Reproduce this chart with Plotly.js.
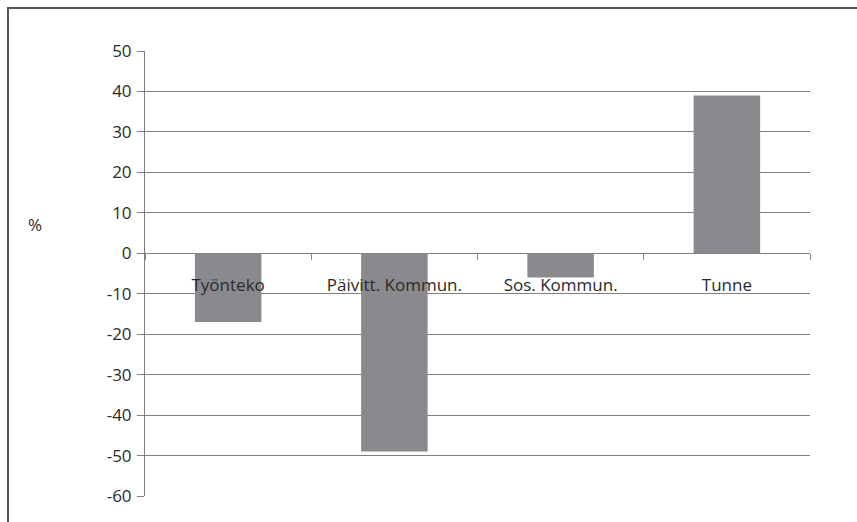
<!DOCTYPE html>
<html><head><meta charset="utf-8">
<script src="https://cdn.plot.ly/plotly-3.0.1.min.js"></script>
<style>
html,body{margin:0;padding:0;background:#fff;}
#wrap{position:relative;width:857px;height:522px;}
#chart{width:857px;height:522px;}
#frame{position:absolute;left:7px;top:7px;width:860px;height:530px;border-left:2px solid #555;border-top:2px solid #555;pointer-events:none;}
</style></head>
<body>
<div id="wrap"><div id="chart"></div><div id="frame"></div></div>
<script>
const categories = ["Työnteko", "Päivitt. Kommun.", "Sos. Kommun.", "Tunne"];
const values = [-17, -49, -6, 39];
const yTicks = [50, 40, 30, 20, 10, 0, -10, -20, -30, -40, -50, -60];
const yTitle = "%";

const font = {family: "Open Sans, sans-serif", size: 17, color: "#2a2a2a"};
const trace = {
  type: "bar", x: categories, y: values,
  marker: {color: "#8a8a8e", line: {width: 0}},
  width: 0.4, hoverinfo: "skip"
};
const layout = {
  width: 857, height: 522,
  margin: {l: 145, r: 47, t: 51, b: 26},
  paper_bgcolor: "#fff", plot_bgcolor: "#fff",
  font: font,
  showlegend: false,
  xaxis: {
    type: "category", anchor: "free", position: 60/110,
    tickson: "boundaries", ticks: "outside", ticklen: 6, tickcolor: "#888", tickwidth: 1,
    showline: false, showgrid: false, zeroline: false,
    tickfont: font, ticklabelstandoff: 20, fixedrange: true
  },
  yaxis: {
    range: [-60, 50], tickvals: yTicks, ticktext: yTicks.map(String),
    showgrid: true, gridcolor: "#7f7f7f", gridwidth: 1,
    zeroline: true, zerolinecolor: "#7f7f7f", zerolinewidth: 1,
    showline: true, linecolor: "#7f7f7f", linewidth: 1,
    ticks: "outside", ticklen: 7, tickcolor: "#7f7f7f",
    tickfont: font, ticklabelstandoff: 2, fixedrange: true
  },
  annotations: [{
    text: yTitle, xref: "paper", yref: "paper", x: -0.165, y: 0.609,
    showarrow: false, font: font, xanchor: "center", yanchor: "middle"
  }],
  bargap: 0.6
};
Plotly.newPlot("chart", [trace], layout, {displayModeBar: false, staticPlot: true});
</script>
</body></html>
